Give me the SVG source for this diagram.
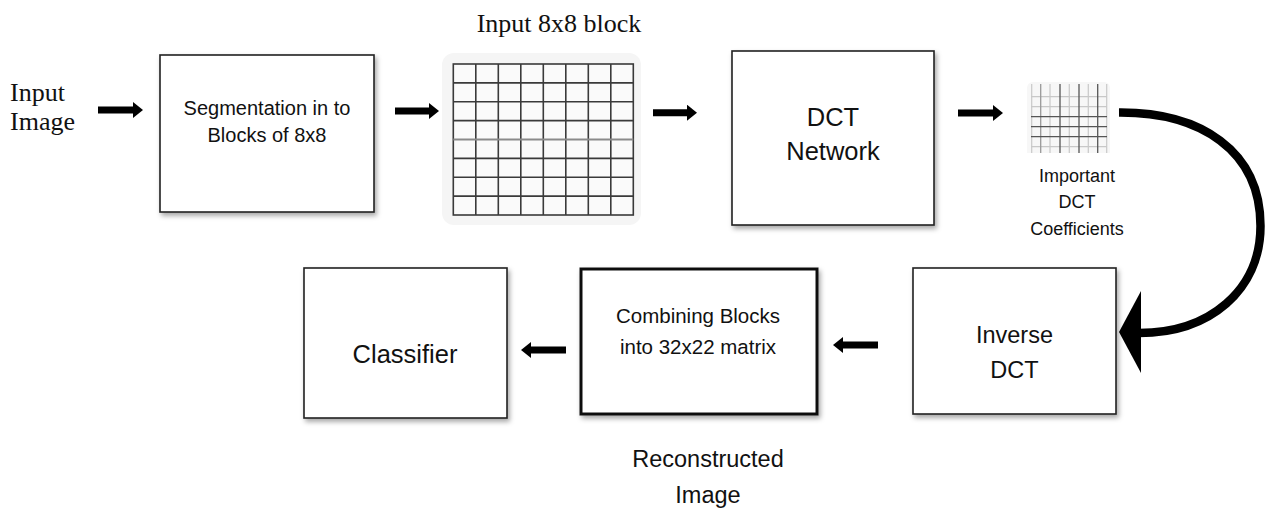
<svg xmlns="http://www.w3.org/2000/svg" width="1268" height="509" viewBox="0 0 1268 509">
<defs>
  <filter id="sh" x="-10%" y="-10%" width="125%" height="125%">
    <feDropShadow dx="2" dy="3" stdDeviation="2.5" flood-color="#000" flood-opacity="0.35"/>
  </filter>
  <marker id="ah" markerUnits="userSpaceOnUse" markerWidth="10" markerHeight="16" refX="0" refY="8" orient="auto">
    <path d="M0,0 L10,8 L0,16 z" fill="#000"/>
  </marker>
</defs>
<style>
  .box{fill:#fff;stroke:#222;stroke-width:1.6;filter:url(#sh)}
  .thick{stroke:#111;stroke-width:3}
  .t{font-family:"Liberation Sans",Arial,sans-serif;fill:#111;text-anchor:middle}
  .s{font-family:"Liberation Serif","Times New Roman",serif;fill:#111}
  .arr{stroke:#000;stroke-width:7;fill:none;marker-end:url(#ah)}
  .g{stroke:#3a3a3a;stroke-width:1.6}
  .gl{stroke:#c8c8c8;stroke-width:1.2}
  .gd{stroke:#555;stroke-width:1.3}
</style>
<rect width="1268" height="509" fill="#fff"/>

<g id="input-label">
  <text class="s" x="10" y="101" font-size="26">Input</text>
  <text class="s" x="10" y="130" font-size="26">Image</text>
</g>

<g id="seg">
  <rect class="box" x="160" y="55" width="214" height="157"/>
  <text class="t" x="267" y="115" font-size="20">Segmentation in to</text>
  <text class="t" x="267" y="142" font-size="20">Blocks of 8x8</text>
</g>

<g id="block8">
  <text class="s" x="559" y="32" font-size="26" text-anchor="middle">Input 8x8 block</text>
  <rect x="442" y="53" width="199" height="172" rx="12" fill="#f5f5f5"/>
  <rect x="453.3" y="64" width="180" height="151" fill="#fafafa" stroke="#3a3a3a" stroke-width="1.6"/>
  <g class="g">
    <line x1="475.8" y1="64" x2="475.8" y2="215"/>
    <line x1="498.3" y1="64" x2="498.3" y2="215"/>
    <line x1="520.8" y1="64" x2="520.8" y2="215"/>
    <line x1="543.3" y1="64" x2="543.3" y2="215"/>
    <line x1="565.8" y1="64" x2="565.8" y2="215"/>
    <line x1="588.3" y1="64" x2="588.3" y2="215"/>
    <line x1="610.8" y1="64" x2="610.8" y2="215"/>
    <line x1="453.3" y1="82.9" x2="633.3" y2="82.9"/>
    <line x1="453.3" y1="101.8" x2="633.3" y2="101.8"/>
    <line x1="453.3" y1="120.6" x2="633.3" y2="120.6"/>
    <line x1="453.3" y1="158.4" x2="633.3" y2="158.4"/>
    <line x1="453.3" y1="177.3" x2="633.3" y2="177.3"/>
    <line x1="453.3" y1="196.1" x2="633.3" y2="196.1"/>
  </g>
  <line x1="453.3" y1="139.5" x2="633.3" y2="139.5" stroke="#8a8a8a" stroke-width="2"/>
</g>

<g id="dct">
  <rect class="box" x="732" y="51" width="202" height="174"/>
  <text class="t" x="833" y="126" font-size="25.5">DCT</text>
  <text class="t" x="833" y="160" font-size="25.5">Network</text>
</g>

<g id="coeffs">
  <rect x="1027" y="82" width="83" height="71" rx="6" fill="#f7f7f7"/>
  <rect x="1027" y="140" width="83" height="13" fill="#f7f7f7"/>
  <g class="gl">
    <line x1="1031.7" y1="84" x2="1031.7" y2="153"/>
    <line x1="1050" y1="84" x2="1050" y2="153"/>
    <line x1="1069.3" y1="84" x2="1069.3" y2="153"/>
    <line x1="1088.3" y1="84" x2="1088.3" y2="153"/>
    <line x1="1106.7" y1="84" x2="1106.7" y2="153"/>
    <line x1="1031" y1="96.7" x2="1107" y2="96.7"/>
    <line x1="1031" y1="106.7" x2="1107" y2="106.7"/>
    <line x1="1031" y1="146.7" x2="1107" y2="146.7"/>
  </g>
  <g class="gd">
    <line x1="1040.7" y1="84" x2="1040.7" y2="153" stroke="#999"/>
    <line x1="1060" y1="84" x2="1060" y2="153"/>
    <line x1="1079" y1="84" x2="1079" y2="153"/>
    <line x1="1097.7" y1="84" x2="1097.7" y2="153"/>
    <line x1="1031" y1="116.7" x2="1107" y2="116.7"/>
    <line x1="1031" y1="126.7" x2="1107" y2="126.7"/>
    <line x1="1031" y1="136.7" x2="1107" y2="136.7"/>
  </g>
  <text class="t" x="1077" y="182" font-size="18">Important</text>
  <text class="t" x="1077" y="208" font-size="18">DCT</text>
  <text class="t" x="1077" y="235" font-size="18">Coefficients</text>
</g>

<g id="idct">
  <rect class="box" x="913" y="268" width="203" height="146"/>
  <text class="t" x="1014.5" y="343" font-size="23.5">Inverse</text>
  <text class="t" x="1014.5" y="378" font-size="23.5">DCT</text>
</g>

<g id="combine">
  <rect class="box thick" x="581" y="269" width="236" height="145"/>
  <text class="t" x="698" y="323" font-size="20.5">Combining Blocks</text>
  <text class="t" x="698" y="354" font-size="20.5">into 32x22 matrix</text>
</g>

<g id="classifier">
  <rect class="box" x="304" y="268" width="203" height="150"/>
  <text class="t" x="405" y="363" font-size="25.5">Classifier</text>
</g>

<g id="recon-label">
  <text class="t" x="708" y="467" font-size="23.5">Reconstructed</text>
  <text class="t" x="708" y="503" font-size="23.5">Image</text>
</g>

<g id="connectors">
  <line class="arr" x1="98" y1="110" x2="133" y2="110"/>
  <line class="arr" x1="395" y1="111" x2="429" y2="111"/>
  <line class="arr" x1="653" y1="112.7" x2="687" y2="112.7"/>
  <line class="arr" x1="958" y1="113" x2="993" y2="113"/>
  <line class="arr" x1="878" y1="345" x2="843" y2="345"/>
  <line class="arr" x1="566" y1="350" x2="531" y2="350"/>
  <path d="M1119,112.5 C1200,112 1260.5,150 1260.5,226 C1260.5,290 1210,333 1139,333" fill="none" stroke="#000" stroke-width="8.5"/>
  <polygon points="1141,291 1119,332 1141,373" fill="#000"/>
</g>
</svg>
